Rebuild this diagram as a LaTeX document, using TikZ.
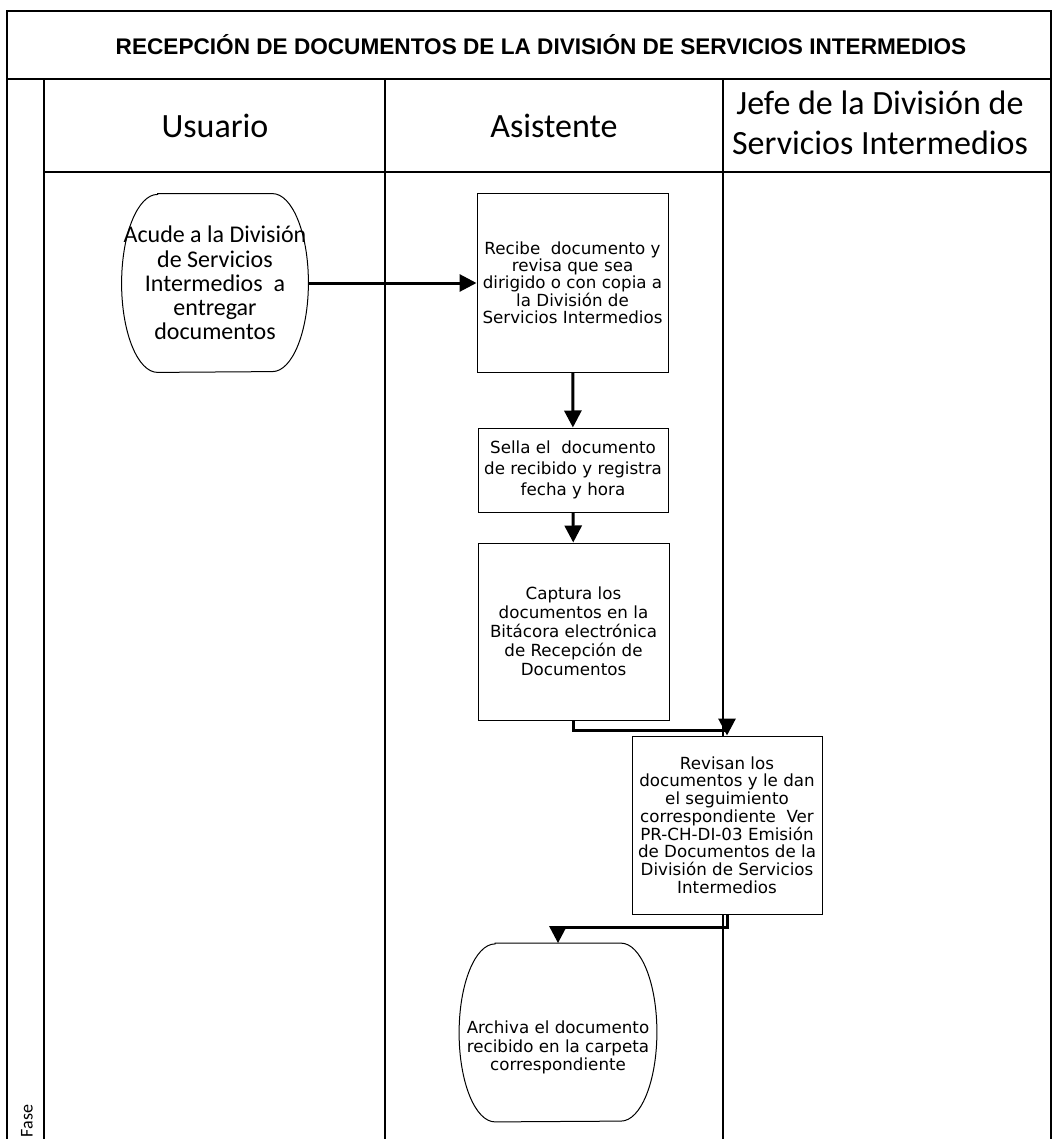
\documentclass[tikz,border=0pt]{standalone}
\usepackage{fontspec}
\usetikzlibrary{arrows.meta}
\newfontfamily\arialfont{Liberation Sans}
\newfontfamily\calibrifont{Carlito}
\newfontfamily\verdanafont{DejaVu Sans}

\tikzset{
  lane/.style={line width=1pt},
  flow/.style={line width=1.5pt, -{Triangle[length=8.5pt,width=8.5pt]}},
  proc/.style={draw, line width=0.5pt, fill=white, align=center, inner sep=0pt,
    font=\verdanafont\fontsize{8.35pt}{#1}\selectfont},
  proc/.default=8.9pt,
  terminal/.style={rectangle, inner sep=0pt, align=center, minimum height=89pt},
  header/.style={align=center, font=\calibrifont\fontsize{17pt}{20pt}\selectfont}
}

\begin{document}
\begin{tikzpicture}[x=0.5pt,y=-0.5pt]
  \useasboundingbox (0,0) rectangle (1053,1139);
  \def\rx{18pt}
  \def\ry{44.5pt}

  % 枠と区画
  \draw[lane] (7,1139) -- (7,11) -- (1051,11) -- (1051,1139);
  \draw[lane] (7,79) -- (1051,79);
  \draw[lane] (44,172) -- (1051,172);
  \foreach \x in {44,385,723}
    \draw[lane] (\x,79) -- (\x,1139);

  % 見出し
  \node[font=\arialfont\bfseries\fontsize{11.3pt}{13pt}\selectfont] (titulo) at (541,45)
    {RECEPCIÓN DE DOCUMENTOS DE LA DIVISIÓN DE SERVICIOS INTERMEDIOS};
  \node[header] (usuario) at (215,126) {Usuario};
  \node[header] (asistente) at (554,126) {Asistente};
  \node[header] (jefe) at (880,123) {Jefe de la División de\\Servicios Intermedios};
  \node[rotate=90, font=\calibrifont\fontsize{9pt}{10pt}\selectfont] (fase) at (27,1121) {Fase};

  % 手順
  \node[terminal, minimum width=93pt, font=\calibrifont\fontsize{12pt}{12.1pt}\selectfont] (acude) at (215,283)
    {Acude a la División\\de Servicios\\Intermedios~ a\\entregar\\documentos};
  \node[proc=8.3pt, minimum width=95.5pt, minimum height=89pt] (recibe) at (572.5,283)
    {Recibe~ documento y\\revisa que sea\\dirigido o con copia a\\la División de\\Servicios Intermedios};
  \node[proc=10.5pt, minimum width=95pt, minimum height=42pt] (sella) at (573,470)
    {Sella el~ documento\\de recibido y registra\\fecha y hora};
  \node[proc=9.5pt, minimum width=95.5pt, minimum height=88.5pt] (captura) at (573.5,631.5)
    {Captura los\\documentos en la\\Bitácora electrónica\\de Recepción de\\Documentos};
  \node[proc=8.85pt, minimum width=95pt, minimum height=89pt] (revisan) at (727,825)
    {Revisan los\\documentos y le dan\\el seguimiento\\correspondiente~ Ver\\PR-CH-DI-03 Emisión\\de Documentos de la\\División de Servicios\\Intermedios};
  \node[terminal, minimum width=98.5pt,
    label={[proc=9.2pt, draw=none, fill=none, yshift=-7.5pt]center:Archiva el documento\\recibido en la carpeta\\correspondiente}]
    (archiva) at (558,1032.5) {};

  % 端子の形
  \foreach \n in {acude,archiva}
    \draw[line width=0.5pt] ([xshift=\rx]\n.north west) -- ([xshift=-\rx]\n.north east)
      arc[start angle=90, end angle=-90, x radius=\rx, y radius=\ry]
      -- ([xshift=\rx]\n.south west)
      arc[start angle=270, end angle=90, x radius=\rx, y radius=\ry] -- cycle;

  % 流れ
  \draw[flow] (acude) -- (recibe);
  \draw[flow] (recibe) -- (sella);
  \draw[flow] (sella) -- (captura);
  \draw[flow] (captura.south) -- ++(0,10) -| (revisan.north);
  \draw[flow] (revisan.south) -- ++(0,13) -| (archiva.north);
\end{tikzpicture}
\end{document}
